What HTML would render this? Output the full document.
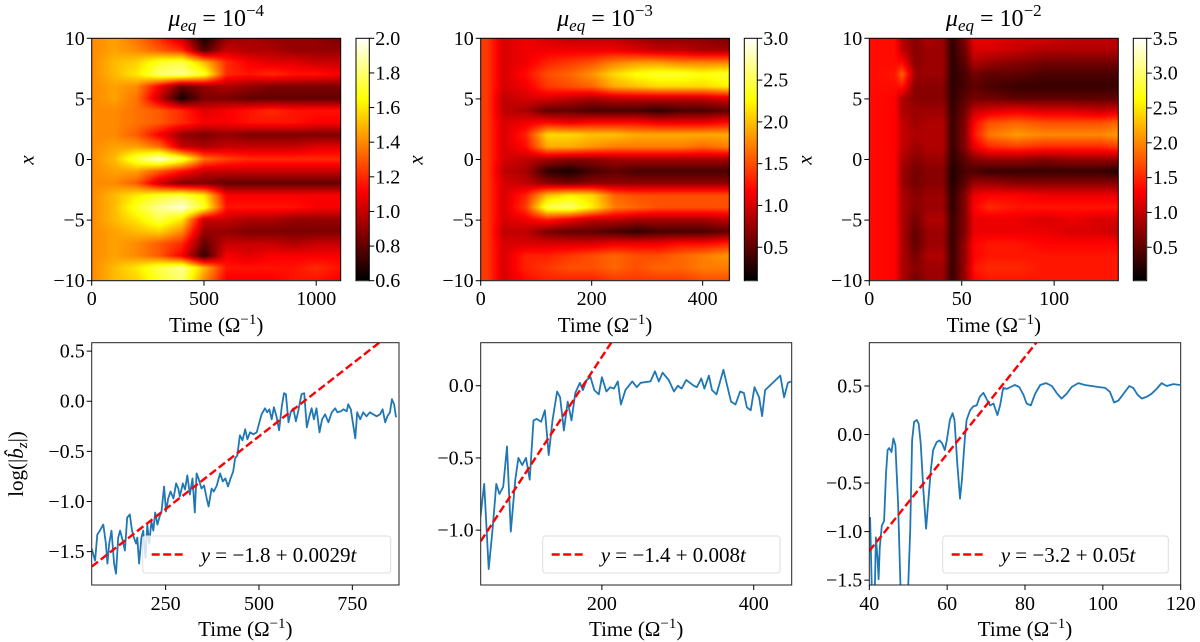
<!DOCTYPE html>
<html><head><meta charset="utf-8">
<style>
html,body{margin:0;padding:0;background:#fff;}
#wrap{position:relative;width:1200px;height:642px;overflow:hidden;font-family:"Liberation Serif",serif;}
canvas{position:absolute;}
svg{position:absolute;left:0;top:0;}
text{font-family:"Liberation Serif",serif;fill:#000;}
</style></head>
<body>
<div id="wrap">
<canvas id="hm1"></canvas>
<canvas id="hm2"></canvas>
<canvas id="hm3"></canvas>
<canvas id="cb1"></canvas>
<canvas id="cb2"></canvas>
<canvas id="cb3"></canvas>
<svg id="svg" width="1200" height="642" font-family="Liberation Serif, serif"></svg>
</div>
<script>
// ---------- heatmap data (rows: x = 10 ... -10, columns: time) ----------
const hm1Times = [0,100,200,300,400,500,600,700,800,900,1000,1100];
const hm1Values = [
[1.4,1.45,1.35,1.2,1.0,0.65,0.9,0.95,0.9,0.9,0.9,0.85],
[1.4,1.45,1.4,1.3,1.2,0.75,1.0,0.95,0.95,0.9,0.9,0.9],
[1.4,1.5,1.55,1.7,1.75,1.5,1.2,1.1,1.05,1.05,1.0,1.0],
[1.4,1.5,1.6,1.8,1.85,1.7,1.2,1.15,1.2,1.15,1.15,1.1],
[1.4,1.45,1.4,1.1,0.8,0.9,0.95,0.9,0.85,0.85,0.85,0.85],
[1.4,1.45,1.35,1.0,0.65,0.85,0.85,0.8,0.8,0.8,0.8,0.8],
[1.4,1.4,1.35,1.3,1.2,1.05,1.1,1.15,1.2,1.15,1.15,1.15],
[1.4,1.4,1.35,1.3,1.2,1.1,1.1,1.15,1.15,1.15,1.1,1.1],
[1.4,1.4,1.3,1.1,0.9,0.85,0.9,0.85,0.85,0.85,0.85,0.85],
[1.4,1.45,1.45,1.35,1.0,0.95,1.0,1.0,1.0,1.0,1.05,1.05],
[1.4,1.5,1.75,1.95,1.75,1.35,1.25,1.2,1.2,1.2,1.2,1.2],
[1.4,1.45,1.45,1.3,1.15,1.0,1.0,1.0,1.0,1.0,1.0,1.0],
[1.4,1.4,1.3,1.0,0.85,0.85,0.8,0.8,0.8,0.8,0.8,0.8],
[1.4,1.5,1.6,1.7,1.75,1.6,1.1,1.1,1.1,1.1,1.1,1.1],
[1.4,1.5,1.7,1.85,1.95,1.7,1.15,1.15,1.15,1.15,1.1,1.1],
[1.4,1.5,1.6,1.75,1.6,1.0,1.0,0.95,0.95,0.9,0.9,0.9],
[1.4,1.45,1.5,1.55,1.4,0.9,0.9,0.85,0.85,0.85,0.85,0.85],
[1.4,1.45,1.4,1.3,1.2,0.8,1.0,1.0,1.0,0.95,1.0,1.0],
[1.4,1.45,1.4,1.3,1.1,0.7,1.1,1.05,1.1,1.1,1.1,1.1],
[1.4,1.5,1.6,1.75,1.85,1.5,1.15,1.15,1.15,1.15,1.2,1.15],
[1.4,1.5,1.55,1.7,1.8,1.4,1.1,1.1,1.1,1.15,1.15,1.1]];
const hm2Times = [0,12,40,80,120,160,200,240,280,320,360,400,440];
const hm2Values = [
[1.4,1.4,1.0,1.1,1.0,0.9,0.9,0.9,0.8,0.7,0.7,0.7,0.6],
[1.4,1.4,1.0,1.1,1.1,1.1,1.1,1.1,1.0,0.9,0.9,0.8,0.8],
[1.4,1.4,1.0,1.1,1.3,1.4,1.5,1.7,1.8,1.8,1.7,1.7,1.7],
[1.4,1.4,1.0,1.2,1.5,1.6,1.8,2.1,2.3,2.4,2.4,2.3,2.4],
[1.4,1.4,1.0,1.1,1.4,1.5,1.6,1.9,2.0,2.1,2.1,2.1,2.2],
[1.4,1.4,0.9,1.0,1.0,0.9,0.8,0.9,0.9,0.9,0.9,0.9,1.0],
[1.4,1.4,0.9,0.8,0.5,0.5,0.4,0.4,0.4,0.3,0.4,0.4,0.5],
[1.4,1.4,1.0,1.1,1.2,1.1,1.2,1.2,1.2,1.1,1.1,1.1,1.2],
[1.4,1.4,1.0,1.3,2.1,2.1,2.0,2.0,1.9,1.9,1.9,1.9,1.9],
[1.4,1.4,1.0,1.2,1.9,1.9,1.8,1.7,1.7,1.7,1.7,1.6,1.7],
[1.4,1.4,1.0,0.9,0.8,0.7,0.7,0.8,0.8,0.8,0.8,0.8,0.8],
[1.4,1.4,0.9,0.8,0.3,0.2,0.4,0.5,0.4,0.4,0.4,0.4,0.4],
[1.4,1.4,1.0,0.9,0.7,0.6,0.7,0.7,0.7,0.7,0.7,0.7,0.7],
[1.4,1.4,1.0,1.3,2.0,2.2,2.1,1.6,1.5,1.5,1.5,1.5,1.5],
[1.4,1.4,1.0,1.4,2.5,2.6,2.2,1.7,1.6,1.5,1.5,1.5,1.5],
[1.4,1.4,1.0,1.1,1.3,1.1,0.9,0.9,0.8,0.8,0.8,0.8,0.9],
[1.4,1.4,0.9,0.9,0.6,0.5,0.5,0.4,0.3,0.4,0.4,0.4,0.5],
[1.4,1.4,1.0,1.0,1.0,1.0,1.0,1.1,1.1,1.1,1.2,1.2,1.3],
[1.4,1.4,1.0,1.3,1.3,1.4,1.5,1.6,1.5,1.5,1.6,1.7,1.8],
[1.4,1.4,1.0,1.3,1.4,1.5,1.5,1.6,1.5,1.6,1.6,1.7,1.7],
[1.4,1.4,1.0,1.2,1.3,1.3,1.3,1.4,1.4,1.4,1.4,1.5,1.5]];
const hm3Times = [0,14,18,25,32,40,45,52,57,65,80,95,110,125,135];
const hm3Values = [
[1.35,1.35,0.9,0.7,0.9,0.8,0.25,0.7,1.2,1.2,1.1,1.1,1.0,1.0,1.0],
[1.35,1.35,1.0,0.7,0.8,0.8,0.25,0.6,1.1,1.1,1.0,0.9,0.9,0.9,0.9],
[1.35,1.35,1.3,0.7,0.8,0.8,0.25,0.5,0.9,0.8,0.7,0.6,0.6,0.6,0.6],
[1.35,1.4,1.8,0.8,0.8,0.8,0.25,0.4,0.6,0.5,0.5,0.4,0.4,0.4,0.4],
[1.35,1.35,1.4,0.7,0.7,0.7,0.25,0.4,0.5,0.4,0.3,0.3,0.3,0.3,0.3],
[1.35,1.3,0.9,0.7,0.7,0.7,0.25,0.5,0.6,0.6,0.5,0.5,0.5,0.5,0.5],
[1.35,1.3,0.9,0.8,0.8,0.8,0.3,0.6,1.0,1.1,1.2,1.1,1.1,1.0,1.1],
[1.35,1.3,1.0,0.8,0.9,0.9,0.3,0.7,1.3,1.7,1.8,1.7,1.7,1.7,1.8],
[1.35,1.3,1.0,0.9,0.9,0.9,0.3,0.7,1.4,1.9,2.1,2.0,2.0,2.0,2.1],
[1.35,1.3,1.0,0.8,0.9,0.9,0.3,0.7,1.2,1.5,1.6,1.5,1.5,1.5,1.6],
[1.35,1.3,0.9,0.7,0.8,0.8,0.25,0.5,0.7,0.8,0.8,0.7,0.8,0.8,0.8],
[1.35,1.3,0.8,0.6,0.7,0.7,0.2,0.4,0.4,0.3,0.3,0.3,0.3,0.3,0.2],
[1.35,1.3,0.8,0.6,0.7,0.7,0.2,0.5,0.8,0.8,0.7,0.7,0.7,0.7,0.7],
[1.35,1.3,0.9,0.7,0.8,0.8,0.25,0.7,1.2,1.3,1.3,1.2,1.2,1.2,1.2],
[1.35,1.3,0.9,0.7,0.8,0.8,0.25,0.7,1.3,1.5,1.4,1.4,1.4,1.4,1.4],
[1.35,1.3,0.9,0.6,0.9,0.9,0.3,0.7,1.2,1.2,1.2,1.1,1.2,1.1,1.1],
[1.35,1.3,0.9,0.5,0.8,0.8,0.3,0.7,1.2,1.2,1.2,1.2,1.1,1.1,1.0],
[1.35,1.3,0.9,0.5,0.8,0.8,0.3,0.8,1.3,1.4,1.4,1.3,1.3,1.3,1.3],
[1.35,1.3,0.9,0.6,0.9,0.9,0.3,0.8,1.3,1.4,1.4,1.4,1.4,1.4,1.4],
[1.35,1.3,0.9,0.7,0.8,0.8,0.3,0.8,1.4,1.5,1.5,1.4,1.4,1.4,1.4],
[1.35,1.3,0.9,0.6,0.8,0.8,0.3,0.8,1.3,1.4,1.4,1.4,1.4,1.4,1.4]];
const hmXTicks1 = [0,500,1000];
const hmXTicks2 = [0,200,400];
const hmXTicks3 = [0,50,100];
const hmYTicks = [-10,-5,0,5,10];
const cbTicks1 = [0.6,0.8,1.0,1.2,1.4,1.6,1.8,2.0];
const cbTicks2 = [0.5,1.0,1.5,2.0,2.5,3.0];
const cbTicks3 = [0.5,1.0,1.5,2.0,2.5,3.0,3.5];
const titles = ["\u22124","\u22123","\u22122"];

// ---------- line data ----------
const l1Times = [52,61,67,74,83,90,94,99,105,112,117,123,128,135,141,147,154,160,165,171,174,179,185,190,196,201,206,212,217,222,228,233,239,246,251,257,263,271,278,284,288,296,302,308,315,322,328,333,338,346,353,360,365,373,379,387,396,403,410,417,424,431,436,442,449,456,463,469,476,485,494,501,507,516,522,528,534,540,547,554,561,567,572,579,585,592,599,605,614,621,628,635,641,647,654,662,669,677,686,695,704,710,719,726,735,739,746,753,758,763,771,779,788,797,806,815,824,831,838,844,851,856,862,867];
const l1Values = [-1.47,-1.59,-1.33,-1.29,-1.23,-1.42,-1.62,-1.42,-1.29,-1.62,-1.72,-1.36,-1.29,-1.39,-1.49,-1.16,-1.13,-1.29,-1.36,-1.42,-1.36,-1.62,-1.36,-1.29,-1.56,-1.23,-1.42,-1.20,-1.29,-1.11,-1.23,-1.16,-1.10,-0.85,-1.10,-0.97,-0.90,-0.97,-0.82,-0.87,-0.95,-0.82,-0.88,-0.74,-0.93,-0.77,-1.11,-0.72,-0.77,-0.87,-0.84,-0.97,-1.05,-0.87,-0.90,-0.84,-0.72,-0.80,-0.77,-0.85,-0.77,-0.70,-0.57,-0.54,-0.34,-0.39,-0.28,-0.38,-0.31,-0.33,-0.31,-0.21,-0.13,-0.07,-0.11,-0.08,-0.18,-0.06,-0.15,-0.29,-0.05,0.08,0.07,-0.21,-0.11,-0.07,-0.20,-0.10,0.07,0.08,-0.26,-0.15,-0.07,-0.18,-0.07,-0.31,-0.18,-0.13,-0.21,-0.11,-0.07,-0.11,-0.10,-0.08,-0.10,-0.03,-0.08,-0.25,-0.37,-0.11,-0.18,-0.11,-0.15,-0.11,-0.13,-0.15,-0.13,-0.08,-0.21,-0.15,-0.11,0.02,-0.03,-0.16];
const l2Times = [40,45,51,56,61,65,70,75,80,86,90,95,100,105,110,114,120,125,130,135,141,145,150,155,160,165,171,175,180,185,190,196,200,206,211,216,221,225,231,240,246,251,264,270,275,280,288,295,300,305,311,321,325,331,335,341,345,351,360,370,376,382,387,391,396,401,407,411,415,435,440,445,449];
const l2Values = [-0.91,-0.68,-1.27,-1.0,-0.68,-0.75,-0.70,-0.42,-1.01,-0.65,-0.50,-0.55,-0.50,-0.65,-0.24,-0.23,-0.25,-0.17,-0.48,-0.24,-0.04,-0.08,-0.31,-0.11,-0.24,-0.05,0.02,-0.03,0.04,0.06,-0.03,-0.06,0.06,-0.04,-0.01,-0.02,0.03,-0.13,-0.03,0.03,-0.01,0.02,0.03,0.10,0.03,0.09,0.04,-0.04,0.00,-0.02,0.04,0.00,-0.01,0.05,-0.02,0.07,-0.03,-0.06,0.11,-0.11,-0.13,-0.04,-0.05,-0.15,-0.17,-0.01,-0.08,-0.21,-0.03,0.07,-0.08,0.02,0.03];
const l3Times = [40.2,40.7,41.2,41.7,42.1,42.4,42.7,43.2,43.8,44.3,44.7,45.1,45.7,46.2,46.7,47.4,48.1,48.6,49.4,49.9,50.5,51.0,51.5,52.2,52.7,53.2,53.9,54.6,55.1,55.8,56.4,57.3,58.0,58.7,59.4,59.9,60.7,61.4,61.9,62.6,63.3,63.8,64.5,65.0,65.9,66.7,67.6,68.4,69.3,70.2,71.0,71.9,72.9,73.6,74.4,75.3,76.3,77.4,78.5,79.6,80.4,81.5,82.6,83.9,85.4,86.9,88.1,89.4,90.7,92.0,93.7,95.4,97.1,98.8,100.6,101.8,102.9,104.0,105.3,106.8,107.8,108.9,110.0,111.3,112.5,113.8,115.1,116.4,118.1,119.8];
const l3Values = [-0.85,-1.68,-2.0,-1.06,-1.27,-1.49,-1.16,-0.94,-0.89,-0.40,-0.16,-0.14,-0.18,-0.04,-0.11,-0.71,-1.68,-2.0,-2.0,-1.68,-0.99,-0.06,0.13,0.15,0.11,-0.09,-0.58,-0.97,-0.71,-0.37,-0.16,-0.08,-0.06,-0.09,-0.16,-0.06,0.15,0.22,0.15,-0.30,-0.66,-0.47,-0.06,0.15,0.25,0.29,0.30,0.39,0.43,0.36,0.30,0.32,0.20,0.30,0.48,0.47,0.49,0.51,0.49,0.41,0.32,0.30,0.42,0.51,0.53,0.50,0.43,0.37,0.42,0.49,0.53,0.51,0.50,0.49,0.48,0.44,0.33,0.35,0.42,0.50,0.48,0.41,0.37,0.39,0.42,0.47,0.53,0.50,0.52,0.51];
const fitIntercepts = [-1.8,-1.4,-3.2];
const fitSlopes = [0.0029,0.008,0.05];
const fitLabels = ["\u22121.8 + 0.0029","\u22121.4 + 0.008","\u22123.2 + 0.05"];
const lx1Ticks = [250,500,750];
const ly1Ticks = [-1.5,-1.0,-0.5,0.0,0.5];
const lx2Ticks = [200,400];
const ly2Ticks = [-1.0,-0.5,0.0];
const lx3Ticks = [40,60,80,100,120];
const ly3Ticks = [-1.5,-1.0,-0.5,0.0,0.5];

// ---------- helpers ----------
const NS = "http://www.w3.org/2000/svg";
const svg = document.getElementById('svg');
function mk(tag, attrs, parent){ const e=document.createElementNS(NS,tag); for(const k in attrs) e.setAttribute(k,attrs[k]); if(tag==='text') e.setAttribute('font-family','Liberation Serif, serif'); (parent||svg).appendChild(e); return e; }
function hot(v){ const r=Math.min(1,Math.max(0,v/0.365)); const g=Math.min(1,Math.max(0,(v-0.365)/0.38)); const b=Math.min(1,Math.max(0,(v-0.746)/0.254)); return [r*255|0,g*255|0,b*255|0]; }
function fmt(v,d){ const s=v.toFixed(d); return s.replace('-','\u2212'); }
function lin(d0,d1,p0,p1){ return v=>p0+(v-d0)*(p1-p0)/(d1-d0); }
function sample(times, vals, t, x){
  let c=0; while(c<times.length-2 && t>times[c+1]) c++;
  let ft=(t-times[c])/(times[c+1]-times[c]); ft=Math.max(0,Math.min(1,ft));
  const nr=vals.length; let rf=(10-x)/20*(nr-1); rf=Math.max(0,Math.min(nr-1,rf));
  const r0=Math.floor(rf), r1=Math.min(nr-1,r0+1), fr=rf-r0;
  const a=vals[r0][c]*(1-ft)+vals[r0][c+1]*ft, b=vals[r1][c]*(1-ft)+vals[r1][c+1]*ft;
  return a*(1-fr)+b*fr;
}

const TOP=38.3, BOT=280.7;
const heat = [
 {id:'hm1',cb:'cb1',L:91.7,R:340.7,tmax:1109,times:hm1Times,vals:hm1Values,vmin:0.6,vmax:2.0,xt:hmXTicks1,cbt:cbTicks1,cbL:356,cbR:369.3,title:titles[0]},
 {id:'hm2',cb:'cb2',L:480.7,R:729.3,tmax:448,times:hm2Times,vals:hm2Values,vmin:0.1,vmax:3.0,xt:hmXTicks2,cbt:cbTicks2,cbL:744.3,cbR:757.3,title:titles[1]},
 {id:'hm3',cb:'cb3',L:869.3,R:1118.3,tmax:134.7,times:hm3Times,vals:hm3Values,vmin:0.02,vmax:3.5,xt:hmXTicks3,cbt:cbTicks3,cbL:1133.3,cbR:1146.7,title:titles[2]}
];
heat.forEach((h,pi)=>{
  const xs=lin(0,h.tmax,h.L,h.R), ys=lin(-10,10,BOT,TOP);
  const cv=document.getElementById(h.id);
  const W=Math.round(h.R-h.L), H=Math.round(BOT-TOP);
  cv.width=W; cv.height=H; cv.style.left=h.L+'px'; cv.style.top=TOP+'px';
  const ctx=cv.getContext('2d'); const img=ctx.createImageData(W,H);
  for(let py=0;py<H;py++){ const x=10-20*(py+0.5)/H;
    for(let px=0;px<W;px++){ const t=h.tmax*(px+0.5)/W;
      const v=sample(h.times,h.vals,t,x); const col=hot((v-h.vmin)/(h.vmax-h.vmin)); const k=(py*W+px)*4;
      img.data[k]=col[0];img.data[k+1]=col[1];img.data[k+2]=col[2];img.data[k+3]=255; } }
  ctx.putImageData(img,0,0);
  const cb=document.getElementById(h.cb); const cbW=Math.round(h.cbR-h.cbL);
  cb.width=cbW; cb.height=H; cb.style.left=h.cbL+'px'; cb.style.top=TOP+'px';
  const c2=cb.getContext('2d');
  for(let y=0;y<H;y++){ const col=hot(1-y/(H-1)); c2.fillStyle=`rgb(${col[0]},${col[1]},${col[2]})`; c2.fillRect(0,y,cbW,1); }
  const g=mk('g',{});  
  mk('rect',{x:h.L,y:TOP,width:h.R-h.L,height:BOT-TOP,fill:'none',stroke:'#000','stroke-width':1},g);
  mk('rect',{x:h.cbL,y:TOP,width:h.cbR-h.cbL,height:BOT-TOP,fill:'none',stroke:'#000','stroke-width':1},g);
  h.xt.forEach(t=>{ const x=xs(t); mk('line',{x1:x,x2:x,y1:BOT,y2:BOT+5,stroke:'#000'},g);
    const tx=mk('text',{x:x,y:305,'font-size':20,'text-anchor':'middle'},g); tx.textContent=t; });
  hmYTicks.forEach(v=>{ const y=ys(v); mk('line',{x1:h.L-5,x2:h.L,y1:y,y2:y,stroke:'#000'},g);
    const tx=mk('text',{x:h.L-7,y:y+6.5,'font-size':20,'text-anchor':'end'},g); tx.textContent=fmt(v,0); });
  const cys=lin(h.vmin,h.vmax,BOT,TOP);
  h.cbt.forEach(v=>{ const y=cys(v); mk('line',{x1:h.cbR,x2:h.cbR+5,y1:y,y2:y,stroke:'#000'},g);
    const tx=mk('text',{x:h.cbR+6,y:y+6.5,'font-size':20},g); tx.textContent=v.toFixed(1); });
  const cx=(h.L+h.R)/2;
  const ti=mk('text',{x:cx,y:26,'font-size':24,'text-anchor':'middle'},g);
  
  ti.innerHTML='<tspan font-style="italic">μ</tspan><tspan font-style="italic" font-size="17" dy="5">eq</tspan><tspan dy="-5"> = 10</tspan><tspan font-size="17" dy="-10">'+h.title+'</tspan>';
  const xl=mk('text',{x:cx,y:332,'font-size':21,'text-anchor':'middle'},g);
  
  xl.innerHTML='Time (Ω<tspan font-size="15" dy="-8">\u22121</tspan><tspan dy="8">)</tspan>';
  const yl=mk('text',{x:0,y:0,'font-size':21,'font-style':'italic','text-anchor':'middle',transform:`translate(${h.L-58},160) rotate(-90)`},g);
  
  yl.textContent='x';
});

// ---------- line plots ----------
const LT=342.7, LB=585;
const lp=[
 {L:91.7,R:399,t0:52,t1:875,v0:-1.833,v1:0.584,times:l1Times,vals:l1Values,xt:lx1Ticks,yt:ly1Ticks,leg:[142.7,390.7]},
 {L:480.7,R:791.7,t0:40.4,t1:450,v0:-1.38,v1:0.298,times:l2Times,vals:l2Values,xt:lx2Ticks,yt:ly2Ticks,leg:[542.7,780]},
 {L:869.3,R:1180.7,t0:40,t1:120,v0:-1.55,v1:0.946,times:l3Times,vals:l3Values,xt:lx3Ticks,yt:ly3Ticks,leg:[942.7,1168.3]}
];
const defs=mk('defs',{});
lp.forEach((p,i)=>{
  const xs=lin(p.t0,p.t1,p.L,p.R), ys=lin(p.v0,p.v1,LB,LT);
  const cp=mk('clipPath',{id:'clip'+i},defs); mk('rect',{x:p.L,y:LT,width:p.R-p.L,height:LB-LT},cp);
  const g=mk('g',{});  
  const n=Math.min(p.times.length,p.vals.length);
  let d=''; for(let k=0;k<n;k++) d+=(k?'L':'M')+xs(p.times[k]).toFixed(1)+','+ys(p.vals[k]).toFixed(1);
  const ln=mk('path',{d:d,fill:'none',stroke:'#1f77b4','stroke-width':1.8,'clip-path':`url(#clip${i})`,'stroke-linejoin':'round'},g);
   
  const f=t=>fitIntercepts[i]+fitSlopes[i]*t;
  const fl=mk('line',{x1:xs(p.t0),y1:ys(f(p.t0)),x2:xs(p.t1),y2:ys(f(p.t1)),stroke:'#ff0000','stroke-width':2.4,'stroke-dasharray':'8,3.5','clip-path':`url(#clip${i})`},g);
   
  mk('rect',{x:p.L,y:LT,width:p.R-p.L,height:LB-LT,fill:'none',stroke:'#222','stroke-width':1},g);
  p.xt.forEach(t=>{ const x=xs(t); mk('line',{x1:x,x2:x,y1:LB,y2:LB+5,stroke:'#000'},g);
    const tx=mk('text',{x:x,y:610,'font-size':20,'text-anchor':'middle'},g); tx.textContent=t; });
  p.yt.forEach(v=>{ const y=ys(v); mk('line',{x1:p.L-5,x2:p.L,y1:y,y2:y,stroke:'#000'},g);
    const tx=mk('text',{x:p.L-7,y:y+6.5,'font-size':20,'text-anchor':'end'},g); tx.textContent=fmt(v,1); });
  const lg=mk('g',{},g);  
  mk('rect',{x:p.leg[0],y:536,width:p.leg[1]-p.leg[0],height:37,rx:3,fill:'#fff','fill-opacity':0.8,stroke:'#ddd'},lg);
  mk('line',{x1:p.leg[0]+9,x2:p.leg[0]+43,y1:554.5,y2:554.5,stroke:'#ff0000','stroke-width':2.4,'stroke-dasharray':'8,3.5'},lg);
  const lt=mk('text',{x:p.leg[0]+58,y:562,'font-size':21},lg);
  lt.innerHTML='<tspan font-style="italic">y</tspan> = '+fitLabels[i]+'<tspan font-style="italic">t</tspan>';
  const xl=mk('text',{x:(p.L+p.R)/2,y:636,'font-size':21,'text-anchor':'middle'},g);
  
  xl.innerHTML='Time (Ω<tspan font-size="15" dy="-8">\u22121</tspan><tspan dy="8">)</tspan>';
});
const yl2=mk('text',{x:0,y:0,'font-size':21,'text-anchor':'middle',transform:'translate(23,464) rotate(-90)'});


yl2.innerHTML='log(|<tspan font-style="italic">b̂</tspan><tspan font-style="italic" font-size="15" dy="4">z</tspan><tspan dy="-4">|)</tspan>';
</script>
</body></html>
